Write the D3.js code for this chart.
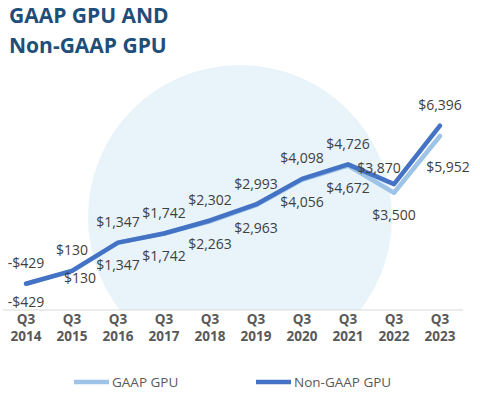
<!DOCTYPE html>
<html>
<head>
<meta charset="utf-8">
<script src="https://cdn.jsdelivr.net/npm/d3@7"></script>
<style>
  html, body { margin: 0; padding: 0; background: #ffffff; }
  svg { display: block; }
</style>
</head>
<body>
<svg id="chart" width="480" height="393"></svg>
<script>
// ---- data ----
const quarters = ["Q3", "Q3", "Q3", "Q3", "Q3", "Q3", "Q3", "Q3", "Q3", "Q3"];
const years = ["2014", "2015", "2016", "2017", "2018", "2019", "2020", "2021", "2022", "2023"];
const gaapGPU = [-429, 130, 1347, 1742, 2263, 2963, 4056, 4672, 3500, 5952];
const nonGaapGPU = [-429, 130, 1347, 1742, 2302, 2993, 4098, 4726, 3870, 6396];
const seriesNames = ["GAAP GPU", "Non-GAAP GPU"];
const titleLines = ["GAAP GPU AND", "Non-GAAP GPU"];

// label nudges (presentation only)
const nonGaapNudge = [[0,0],[0,0],[0,0],[0,0],[0,0],[0,0],[0,0],[0,0],[-15,4],[0,0]];
const gaapNudge = [[0,-4],[8,-15],[0,0],[0,0],[0,0],[0,0],[0,0],[0,0],[0,0],[8,9]];

const colors = { gaap: "#9dc3e6", nonGaap: "#4472c4" };

const svg = d3.select("#chart");
const W = 480, H = 393;
const axisY = 310;

const x = d3.scaleBand().domain(years).range([3, 463]);
const cx = d => x(d) + x.bandwidth() / 2;
const y = d3.scaleLinear().domain([-1563, 7000]).range([axisY, 111.7]);

// background sphere, clipped at the axis
svg.append("clipPath").attr("id", "plotclip")
  .append("rect").attr("x", 0).attr("y", 0).attr("width", W).attr("height", axisY);
svg.append("circle")
  .attr("cx", 240).attr("cy", 217).attr("r", 152)
  .attr("fill", "#e8f4fa")
  .attr("clip-path", "url(#plotclip)");

// title
svg.append("g").selectAll("text").data(titleLines).join("text")
  .attr("x", 9)
  .attr("y", (d, i) => 23 + i * 30)
  .attr("font-family", "'Open Sans', sans-serif")
  .attr("font-weight", 700)
  .attr("font-size", 21)
  .attr("fill", "#1f4e79")
  .text(d => d);

// axis line
svg.append("line")
  .attr("x1", 3).attr("x2", 463)
  .attr("y1", axisY).attr("y2", axisY)
  .attr("stroke", "#d9d9d9").attr("stroke-width", 1);

// x axis labels
const xAxis = d3.axisBottom(x).tickSize(0).tickFormat(() => "");
const gx = svg.append("g").attr("transform", `translate(0,${axisY})`).call(xAxis);
gx.select(".domain").remove();
gx.selectAll(".tick").each(function(d, i) {
  const t = d3.select(this).select("text");
  t.attr("y", 0).attr("dy", null)
   .attr("font-family", "'Open Sans', sans-serif")
   .attr("font-weight", 700)
   .attr("font-size", 13.5)
   .attr("fill", "#595959");
  t.append("tspan").attr("x", 0).attr("y", 13.5).text(quarters[i]);
  t.append("tspan").attr("x", 0).attr("y", 31).text(d);
});

// lines
const line = d3.line().x((d, i) => cx(years[i])).y(d => y(d));
svg.append("path").datum(gaapGPU)
  .attr("d", line).attr("fill", "none")
  .attr("stroke", colors.gaap).attr("stroke-width", 4.5)
  .attr("stroke-linejoin", "round").attr("stroke-linecap", "round");
svg.append("path").datum(nonGaapGPU)
  .attr("d", line).attr("fill", "none")
  .attr("stroke", colors.nonGaap).attr("stroke-width", 4.5)
  .attr("stroke-linejoin", "round").attr("stroke-linecap", "round");

// data labels
const fmt = v => (v < 0 ? "-$" : "$") + d3.format(",")(Math.abs(v));
const labelStyle = sel => sel
  .attr("font-family", "'Open Sans', sans-serif")
  .attr("font-size", 14)
  .attr("fill", "#404040")
  .attr("text-anchor", "middle")
  .attr("dominant-baseline", "central");

svg.append("g").selectAll("text").data(nonGaapGPU).join("text")
  .attr("x", (d, i) => cx(years[i]) + nonGaapNudge[i][0])
  .attr("y", (d, i) => y(d) - 21 + nonGaapNudge[i][1])
  .call(labelStyle)
  .text(fmt);

svg.append("g").selectAll("text").data(gaapGPU).join("text")
  .attr("x", (d, i) => cx(years[i]) + gaapNudge[i][0])
  .attr("y", (d, i) => y(d) + 22 + gaapNudge[i][1])
  .call(labelStyle)
  .text(fmt);

// legend
const legend = [
  { name: seriesNames[0], color: colors.gaap, x: 74 },
  { name: seriesNames[1], color: colors.nonGaap, x: 256 }
];
const lg = svg.append("g").selectAll("g").data(legend).join("g")
  .attr("transform", d => `translate(${d.x},382)`);
lg.append("line").attr("x1", 0).attr("x2", 35).attr("y1", 0).attr("y2", 0)
  .attr("stroke", d => d.color).attr("stroke-width", 4.5);
lg.append("text").attr("x", 38).attr("y", 0)
  .attr("dominant-baseline", "central")
  .attr("font-family", "'Open Sans', sans-serif")
  .attr("font-size", 13.5)
  .attr("fill", "#595959")
  .text(d => d.name);
</script>
</body>
</html>
